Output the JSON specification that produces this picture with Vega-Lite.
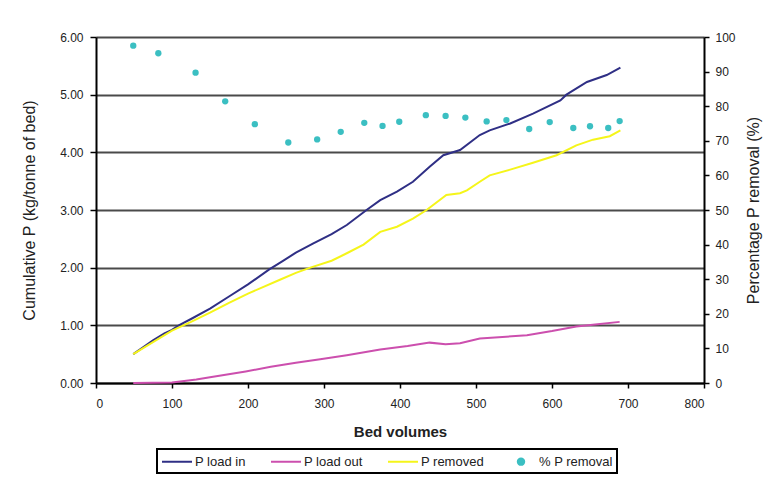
{
  "$schema": "https://vega.github.io/schema/vega-lite/v6.json",
  "width": 608,
  "height": 346,
  "autosize": {"type": "none"},
  "padding": {"left": 96, "top": 37, "right": 68, "bottom": 99},
  "background": "white",
  "config": {
    "view": {"stroke": null},
    "font": "Liberation Sans",
    "axis": {
      "labelFont": "Liberation Sans",
      "titleFont": "Liberation Sans",
      "labelFontSize": 12,
      "labelColor": "#222",
      "titleColor": "#222",
      "domainColor": "#000",
      "domainWidth": 2,
      "tickColor": "#000",
      "tickWidth": 1.5,
      "tickSize": 5
    }
  },
  "datasets": {
    "lines": [
      {"bv": 49, "value": 0.50, "series": "P load in"},
      {"bv": 60, "value": 0.60, "series": "P load in"},
      {"bv": 75, "value": 0.74, "series": "P load in"},
      {"bv": 90, "value": 0.86, "series": "P load in"},
      {"bv": 100, "value": 0.92, "series": "P load in"},
      {"bv": 109, "value": 1.00, "series": "P load in"},
      {"bv": 125, "value": 1.11, "series": "P load in"},
      {"bv": 150, "value": 1.29, "series": "P load in"},
      {"bv": 175, "value": 1.50, "series": "P load in"},
      {"bv": 200, "value": 1.71, "series": "P load in"},
      {"bv": 228, "value": 1.97, "series": "P load in"},
      {"bv": 245, "value": 2.11, "series": "P load in"},
      {"bv": 263, "value": 2.26, "series": "P load in"},
      {"bv": 286, "value": 2.42, "series": "P load in"},
      {"bv": 310, "value": 2.58, "series": "P load in"},
      {"bv": 330, "value": 2.74, "series": "P load in"},
      {"bv": 356, "value": 3.00, "series": "P load in"},
      {"bv": 374, "value": 3.17, "series": "P load in"},
      {"bv": 396, "value": 3.32, "series": "P load in"},
      {"bv": 417, "value": 3.49, "series": "P load in"},
      {"bv": 439, "value": 3.75, "series": "P load in"},
      {"bv": 457, "value": 3.95, "series": "P load in"},
      {"bv": 479, "value": 4.04, "series": "P load in"},
      {"bv": 505, "value": 4.30, "series": "P load in"},
      {"bv": 518, "value": 4.38, "series": "P load in"},
      {"bv": 545, "value": 4.50, "series": "P load in"},
      {"bv": 575, "value": 4.67, "series": "P load in"},
      {"bv": 611, "value": 4.90, "series": "P load in"},
      {"bv": 619, "value": 5.00, "series": "P load in"},
      {"bv": 646, "value": 5.22, "series": "P load in"},
      {"bv": 672, "value": 5.34, "series": "P load in"},
      {"bv": 690, "value": 5.47, "series": "P load in"},
      {"bv": 49, "value": 0.00, "series": "P load out"},
      {"bv": 100, "value": 0.01, "series": "P load out"},
      {"bv": 132, "value": 0.06, "series": "P load out"},
      {"bv": 150, "value": 0.10, "series": "P load out"},
      {"bv": 197, "value": 0.20, "series": "P load out"},
      {"bv": 230, "value": 0.28, "series": "P load out"},
      {"bv": 263, "value": 0.35, "series": "P load out"},
      {"bv": 295, "value": 0.41, "series": "P load out"},
      {"bv": 330, "value": 0.48, "series": "P load out"},
      {"bv": 374, "value": 0.58, "series": "P load out"},
      {"bv": 410, "value": 0.64, "series": "P load out"},
      {"bv": 439, "value": 0.70, "series": "P load out"},
      {"bv": 460, "value": 0.67, "series": "P load out"},
      {"bv": 479, "value": 0.69, "series": "P load out"},
      {"bv": 505, "value": 0.77, "series": "P load out"},
      {"bv": 567, "value": 0.83, "series": "P load out"},
      {"bv": 600, "value": 0.90, "series": "P load out"},
      {"bv": 632, "value": 0.98, "series": "P load out"},
      {"bv": 660, "value": 1.02, "series": "P load out"},
      {"bv": 689, "value": 1.06, "series": "P load out"},
      {"bv": 49, "value": 0.50, "series": "P removed"},
      {"bv": 75, "value": 0.71, "series": "P removed"},
      {"bv": 100, "value": 0.91, "series": "P removed"},
      {"bv": 125, "value": 1.06, "series": "P removed"},
      {"bv": 150, "value": 1.22, "series": "P removed"},
      {"bv": 175, "value": 1.39, "series": "P removed"},
      {"bv": 200, "value": 1.55, "series": "P removed"},
      {"bv": 242, "value": 1.79, "series": "P removed"},
      {"bv": 263, "value": 1.91, "series": "P removed"},
      {"bv": 282, "value": 2.00, "series": "P removed"},
      {"bv": 310, "value": 2.12, "series": "P removed"},
      {"bv": 330, "value": 2.25, "series": "P removed"},
      {"bv": 352, "value": 2.40, "series": "P removed"},
      {"bv": 374, "value": 2.62, "series": "P removed"},
      {"bv": 396, "value": 2.71, "series": "P removed"},
      {"bv": 417, "value": 2.85, "series": "P removed"},
      {"bv": 435, "value": 3.00, "series": "P removed"},
      {"bv": 461, "value": 3.26, "series": "P removed"},
      {"bv": 479, "value": 3.29, "series": "P removed"},
      {"bv": 488, "value": 3.34, "series": "P removed"},
      {"bv": 505, "value": 3.49, "series": "P removed"},
      {"bv": 518, "value": 3.60, "series": "P removed"},
      {"bv": 545, "value": 3.70, "series": "P removed"},
      {"bv": 575, "value": 3.82, "series": "P removed"},
      {"bv": 606, "value": 3.95, "series": "P removed"},
      {"bv": 632, "value": 4.12, "series": "P removed"},
      {"bv": 654, "value": 4.22, "series": "P removed"},
      {"bv": 676, "value": 4.28, "series": "P removed"},
      {"bv": 690, "value": 4.38, "series": "P removed"}
    ],
    "dots": [
      {"bv": 49, "pct": 97.5, "series": "% P removal"},
      {"bv": 82, "pct": 95.3, "series": "% P removal"},
      {"bv": 131, "pct": 89.7, "series": "% P removal"},
      {"bv": 170, "pct": 81.4, "series": "% P removal"},
      {"bv": 209, "pct": 74.8, "series": "% P removal"},
      {"bv": 253, "pct": 69.5, "series": "% P removal"},
      {"bv": 291, "pct": 70.4, "series": "% P removal"},
      {"bv": 322, "pct": 72.6, "series": "% P removal"},
      {"bv": 353, "pct": 75.2, "series": "% P removal"},
      {"bv": 377, "pct": 74.3, "series": "% P removal"},
      {"bv": 399, "pct": 75.5, "series": "% P removal"},
      {"bv": 434, "pct": 77.4, "series": "% P removal"},
      {"bv": 460, "pct": 77.2, "series": "% P removal"},
      {"bv": 486, "pct": 76.7, "series": "% P removal"},
      {"bv": 514, "pct": 75.6, "series": "% P removal"},
      {"bv": 540, "pct": 76.0, "series": "% P removal"},
      {"bv": 570, "pct": 73.4, "series": "% P removal"},
      {"bv": 597, "pct": 75.4, "series": "% P removal"},
      {"bv": 628, "pct": 73.7, "series": "% P removal"},
      {"bv": 650, "pct": 74.2, "series": "% P removal"},
      {"bv": 674, "pct": 73.7, "series": "% P removal"},
      {"bv": 689, "pct": 75.7, "series": "% P removal"}
    ]
  },
  "layer": [
    {
      "data": {"name": "lines"},
      "mark": {"type": "line", "strokeWidth": 2, "clip": false},
      "encoding": {
        "x": {
          "field": "bv", "type": "quantitative",
          "scale": {"domain": [0, 800], "nice": false},
          "axis": {
            "title": "Bed volumes", "values": [0,100,200,300,400,500,600,700,800],
            "grid": false, "labelPadding": 10, "titlePadding": 15,
            "titleFontSize": 15, "titleFontWeight": "bold"
          }
        },
        "y": {
          "field": "value", "type": "quantitative",
          "scale": {"domain": [0, 6], "nice": false},
          "axis": {
            "title": "Cumulative P (kg/tonne of bed)", "values": [0,1,2,3,4,5,6],
            "format": ".2f", "grid": true, "gridColor": "#4a4a4a", "gridWidth": 2,
            "tickSize": 6, "labelPadding": 7, "titlePadding": 22,
            "titleFontSize": 16, "titleFontWeight": "normal"
          }
        },
        "color": {
          "field": "series", "type": "nominal",
          "scale": {
            "domain": ["P load in", "P load out", "P removed", "% P removal"],
            "range": ["#2f2f85", "#cc4fae", "#f5f51a", "#3bbfc2"]
          },
          "legend": {
            "title": null,
            "orient": "none",
            "legendX": 61,
            "legendY": 412,
            "direction": "horizontal",
            "symbolSize": 225,
            "symbolStrokeWidth": 2,
            "labelOffset": 17,
            "columnPadding": 21,
            "labelFont": "Liberation Sans",
            "labelFontSize": 13,
            "labelColor": "#222",
            "padding": 4,
            "strokeColor": "#000",
            "encode": {
              "legend": {"update": {"strokeWidth": {"value": 2}}},
              "symbols": {
                "update": {
                  "shape": {"signal": "datum.value === '% P removal' ? 'M0.57,0A0.43,0.43,0,1,0,1.43,0A0.43,0.43,0,1,0,0.57,0Z' : 'M-1,0H3'"},
                  "size": {"value": 225},
                  "fill": {"signal": "datum.value === '% P removal' ? '#3bbfc2' : 'transparent'"},
                  "stroke": {"signal": "datum.value === '% P removal' ? 'transparent' : (datum.value === 'P load in' ? '#2f2f85' : (datum.value === 'P load out' ? '#cc4fae' : '#f5f51a'))"},
                  "strokeWidth": {"value": 2},
                  "opacity": {"value": 1}
                }
              }
            }
          }
        }
      }
    },
    {
      "data": {"name": "dots"},
      "mark": {"type": "point", "filled": true, "size": 40, "opacity": 1},
      "encoding": {
        "x": {"field": "bv", "type": "quantitative"},
        "y": {
          "field": "pct", "type": "quantitative",
          "scale": {"domain": [0, 100], "nice": false},
          "axis": {
            "orient": "right", "title": "Percentage P removal (%)",
            "values": [0,10,20,30,40,50,60,70,80,90,100],
            "grid": false, "labelPadding": 6, "titlePadding": 26,
            "titleFontSize": 16, "titleFontWeight": "normal",
            "titleAngle": -90
          }
        },
        "color": {"field": "series", "type": "nominal"}
      }
    }
  ],
  "resolve": {"scale": {"y": "independent"}}
}
